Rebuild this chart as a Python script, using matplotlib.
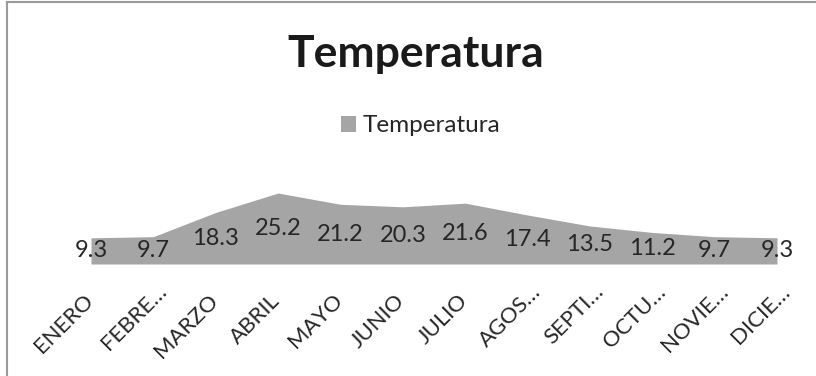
import matplotlib
matplotlib.use("Agg")
import matplotlib.pyplot as plt
from matplotlib.lines import Line2D
from matplotlib.transforms import ScaledTranslation

# monthly values and their (truncated) axis labels
meses = ["ENERO", "FEBRE…", "MARZO", "ABRIL", "MAYO", "JUNIO",
         "JULIO", "AGOS…", "SEPTI…", "OCTU…", "NOVIE…", "DICIE…"]
temperatura = [9.3, 9.7, 18.3, 25.2, 21.2, 20.3, 21.6, 17.4, 13.5, 11.2, 9.7, 9.3]

FILL = "#A5A5A5"
TEXT = "#262626"
plt.rcParams["font.family"] = ["Lato", "DejaVu Sans"]

fig = plt.figure(figsize=(8.16, 3.76), dpi=100)
ax = fig.add_axes([91 / 816, 112 / 376, 686 / 816, 84.5 / 376])

x = list(range(len(meses)))
ax.fill_between(x, 0, temperatura, color=FILL, linewidth=0, label="Temperatura")
ax.set_xlim(0, len(meses) - 1)
ax.set_ylim(0, 30)

# data labels sit in the middle of the filled area
for i, v in enumerate(temperatura):
    ax.text(i, v / 2, f"{v}", ha="center", va="center", fontsize=17, color=TEXT)

ax.set_xticks(x)
ax.set_xticklabels(meses, rotation=45, ha="right", va="top",
                   rotation_mode="anchor", fontsize=16, color=TEXT)
ax.tick_params(axis="x", length=0, pad=14)
# full names sit a bit lower-left than the shortened ones
for lab in ax.get_xticklabels():
    dx, dy = (3, 2) if lab.get_text().endswith("…") else (-8, -7)
    lab.set_transform(lab.get_transform() + ScaledTranslation(dx / 100, dy / 100, fig.dpi_scale_trans))
ax.set_yticks([])
for s in ax.spines.values():
    s.set_visible(False)

fig.text(416 / 816, 1 - 54 / 376, "Temperatura", ha="center", va="center",
         fontsize=32, fontweight="bold", color="#1a1a1a")
fig.legend(loc="center", bbox_to_anchor=(421 / 816, 1 - 126 / 376), frameon=False,
           fontsize=17.5, handlelength=0.6, handleheight=0.6, handletextpad=0.3,
           labelcolor=TEXT)

# chart-area border (only top and left edges are visible)
fig.add_artist(Line2D([7 / 816, 7 / 816], [0, 1 - 2 / 376], transform=fig.transFigure,
                      color="#9a9a9a", linewidth=1.5))
fig.add_artist(Line2D([7 / 816, 1], [1 - 2 / 376, 1 - 2 / 376], transform=fig.transFigure,
                      color="#9a9a9a", linewidth=1.5))

fig.savefig("out.png", dpi=100, facecolor="white")
